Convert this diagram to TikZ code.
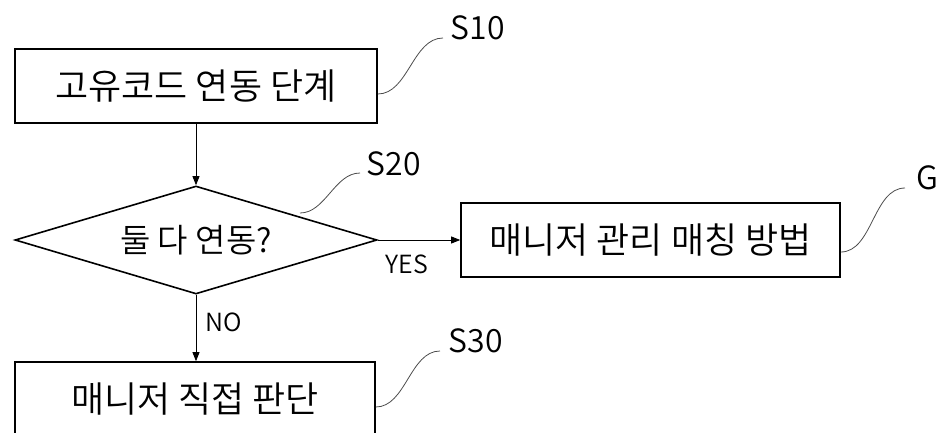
\documentclass[tikz,border=0pt]{standalone}
\usepackage{fontspec}
\setmainfont{Noto Sans CJK KR}[UprightFont={* DemiLight}]
\usetikzlibrary{shapes.geometric,arrows.meta}
\begin{document}
\begin{tikzpicture}[x=1pt,y=-1pt,
  box/.style={draw,line width=1.6pt,rectangle,minimum height=74pt,inner sep=0pt,font=\fontsize{36}{40}\selectfont},
  decision/.style={draw,line width=1.6pt,diamond,aspect=3.35,minimum width=362pt,minimum height=108pt,inner sep=0pt,font=\fontsize{33}{38}\selectfont},
  arr/.style={-{Triangle[length=9pt,width=7pt]},line width=0.8pt},
  lead/.style={draw=black!70,line width=0.8pt},
  tag/.style={inner sep=0pt,font=\fontsize{32}{34}\selectfont},
  lbl/.style={inner sep=0pt,font=\fontsize{25}{28}\selectfont}]
\useasboundingbox (0,0) rectangle (938,432);
\clip (0,0) rectangle (938,432);

\node[box,minimum width=362pt] (s10) at (196,86) {고유코드 연동 단계};
\node[decision] (d) at (196,240) {둘 다 연동?};
\node[box,minimum width=379pt] (g) at (650.5,240) {매니저 관리 매칭 방법};
\node[box,minimum width=360pt] (s30) at (195,399) {매니저 직접 판단};

\draw[arr] (s10.south) -- (s10.south |- d.north);
\draw[arr] (d.east) -- (g.west);
\draw[arr] (d.south) -- (d.south |- s30.north);

\node[lbl] (yes) at (407,264) {YES};
\node[lbl] (no) at (224,322) {NO};

\node[tag] (t10) at (478,28) {S10};
\node[tag] (t20) at (394,164) {S20};
\node[tag] (t30) at (476,341) {S30};
\node[tag] (tg) at (927,178) {G};

\coordinate (e10) at (443,38);
\coordinate (e20) at (360,173);
\coordinate (e30) at (440,351);
\coordinate (eg) at (905,188);
\coordinate (b20) at (300,213);

\draw[lead] ([yshift=-8pt]s10.east) to[out=0,in=180,looseness=0.9] (e10);
\draw[lead] (b20) to[out=0,in=180,looseness=0.9] (e20);
\draw[lead] ([yshift=-8pt]s30.east) to[out=0,in=180,looseness=0.9] (e30);
\draw[lead] ([yshift=-12pt]g.east) to[out=0,in=180,looseness=0.9] (eg);
\end{tikzpicture}
\end{document}
